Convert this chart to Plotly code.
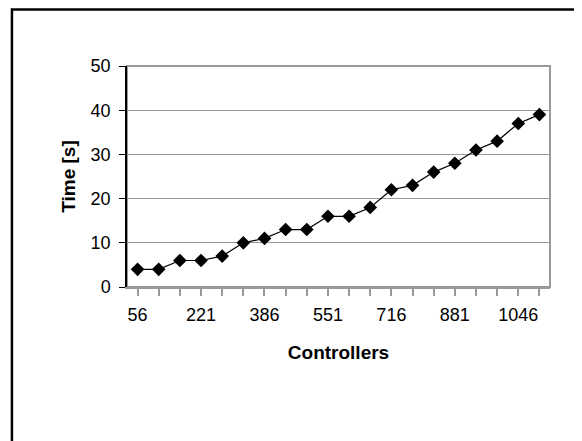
import plotly.graph_objects as go

controllers = ["56", "111", "166", "221", "276", "331", "386", "441", "496", "551",
               "606", "661", "716", "771", "826", "881", "936", "991", "1046", "1101"]
time_s = [4, 4, 6, 6, 7, 10, 11, 13, 13, 16, 16, 18, 22, 23, 26, 28, 31, 33, 37, 39]
x_tick_labels = controllers[::3]

fig = go.Figure()
fig.add_trace(go.Scatter(
    x=controllers, y=time_s, mode="lines+markers",
    line=dict(color="black", width=1.2),
    marker=dict(symbol="diamond", size=10.5, color="black"),
    showlegend=False,
))

tick_font = dict(family="Liberation Sans, Arial, sans-serif", size=18, color="black")
title_font = dict(family="Liberation Sans, Arial, sans-serif", size=19, color="black")

fig.update_layout(
    width=582, height=441,
    margin=dict(l=119, r=40, t=58, b=162),
    paper_bgcolor="white", plot_bgcolor="white",
    font=tick_font,
    xaxis=dict(
        type="category", categoryorder="array", categoryarray=controllers,
        range=[-0.5, len(controllers) - 0.5],
        tickmode="array", tickvals=x_tick_labels, ticktext=x_tick_labels,
        ticks="", showgrid=False, showline=True, linecolor="#999999", linewidth=2,
        minor=dict(ticks="outside", ticklen=7, tickcolor="#999999", tickwidth=1.5,
                   tick0=-0.5, dtick=1, showgrid=False),
        title=dict(text="<b>Controllers</b>", standoff=22, font=title_font),
        ticklabelstandoff=10,
        tickfont=tick_font,
    ),
    yaxis=dict(
        range=[0, 50], dtick=10, tick0=0,
        ticks="outside", ticklen=6, tickcolor="black",
        showgrid=True, gridcolor="#999999", gridwidth=1,
        showline=True, linecolor="black", linewidth=1.5,
        zeroline=False,
        ticklabelstandoff=5,
        tickfont=tick_font,
        title=dict(text="<b>Time [s]</b>", standoff=10, font=title_font),
    ),
    shapes=[
        dict(type="rect", xref="paper", yref="paper", x0=0, x1=1, y0=0, y1=1,
             line=dict(color="#999999", width=2), layer="below"),
        dict(type="rect", xref="paper", yref="paper", x0=-0.272, x1=1.3, y0=-0.75, y1=1.256,
             line=dict(color="black", width=2.5)),
    ],
)

fig.write_html("out.html")
